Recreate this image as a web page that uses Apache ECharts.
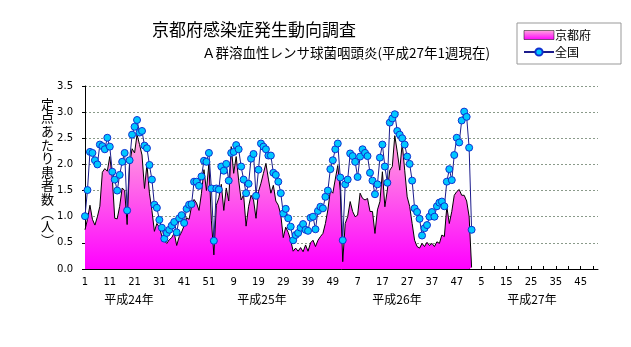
<!DOCTYPE html>
<html><head><meta charset="utf-8">
<script src="https://cdn.jsdelivr.net/npm/echarts@6/dist/echarts.min.js"></script>
<style>html,body{margin:0;padding:0;background:#fff}#c{width:631px;height:347px}</style>
</head><body><div id="c"></div>
<script>
// ---- data ----
const yearNames = ["平成24年", "平成25年", "平成26年", "平成27年"];
const weeksPerYear = [52, 52, 52, 52];
const yTicks = [0, 0.5, 1.0, 1.5, 2.0, 2.5, 3.0, 3.5];
// 京都府 (2012 week1 - 2015 week1)
const kyoto = [
0.75,0.95,1.22,0.95,0.84,1.0,1.2,1.85,1.92,1.87,
2.15,1.75,0.97,0.96,1.2,1.55,1.5,0.85,2.0,2.3,
2.22,2.57,2.38,2.18,1.54,2.0,1.45,1.12,0.72,0.87,
0.8,0.63,0.54,0.49,0.56,0.6,0.69,0.45,0.62,0.71,
0.83,0.98,0.95,1.2,1.33,1.26,1.12,1.45,1.9,1.5,
2.02,0.92,0.27,1.22,1.36,1.62,1.12,1.55,1.3,2.34,
1.83,2.15,1.7,1.32,1.42,0.82,1.19,1.41,1.32,0.97,
1.48,1.64,1.83,2.02,1.72,1.45,1.6,1.3,1.22,1.04,
0.6,0.8,0.7,0.55,0.34,0.4,0.34,0.41,0.33,0.46,
0.34,0.5,0.55,0.43,0.55,0.62,0.68,0.87,1.13,1.5,
1.45,1.72,1.98,1.5,0.14,0.87,1.0,1.29,1.1,1.0,
1.03,1.45,1.35,1.32,1.35,1.1,1.1,0.68,1.13,1.29,
1.86,1.19,1.51,1.89,1.96,2.55,2.24,1.89,2.4,1.89,
1.38,1.2,0.87,0.55,0.43,0.4,0.49,0.43,0.51,0.45,
0.49,0.43,0.52,0.49,0.65,0.62,1.19,0.87,1.1,1.41,
1.48,1.52,1.41,1.41,1.3,1.0,0.03
];
// 全国
const national = [
1.01,1.51,2.24,2.22,2.08,2.0,2.38,2.35,2.29,2.51,
2.34,1.86,1.71,1.5,1.8,2.05,2.22,1.12,2.08,2.57,
2.72,2.85,2.61,2.64,2.36,2.31,1.99,1.71,1.23,1.17,
0.94,0.79,0.58,0.69,0.75,0.83,0.9,0.7,0.97,1.03,
0.88,1.15,1.23,1.24,1.67,1.67,1.59,1.77,2.07,2.05,
2.22,1.54,0.54,1.54,1.52,1.96,1.88,2.01,1.69,2.22,
2.24,2.37,2.29,1.96,1.71,1.45,1.63,2.11,2.2,1.4,
1.9,2.4,2.34,2.29,2.17,2.17,1.84,1.8,1.67,1.45,
1.06,1.15,0.97,0.81,0.55,0.65,0.69,0.79,0.86,0.75,
0.73,0.98,1.0,0.76,1.11,1.19,1.16,1.38,1.5,1.91,
2.08,2.29,2.4,1.75,0.55,1.62,1.71,2.21,2.16,2.05,
1.76,2.15,2.29,2.22,2.16,1.84,1.69,1.43,1.62,2.13,
2.38,1.96,1.65,2.8,2.88,2.96,2.64,2.57,2.5,2.38,
2.15,2.01,1.69,1.16,1.09,0.96,0.64,0.78,0.84,1.0,
1.09,1.0,1.2,1.27,1.29,1.2,1.67,1.91,1.7,2.18,
2.51,2.42,2.84,3.01,2.91,2.32,0.75
];
// categories: week numbers
const categories = [];
weeksPerYear.forEach(n => { for (let w = 1; w <= n; w++) categories.push(String(w)); });

const chart = echarts.init(document.getElementById('c'));
const pinkGrad = new echarts.graphic.LinearGradient(0, 0, 0, 1, [
  {offset: 0, color: '#ffa8dc'}, {offset: 1, color: '#ff00ff'}
]);
const yearX = [129, 262, 397, 532];
const option = {
  animation: false,
  textStyle: {fontFamily: 'Noto Sans CJK JP'},
  title: [
    {text: '京都府感染症発生動向調査', left: 249, top: 16, textAlign: 'center',
     textStyle: {fontSize: 17, fontWeight: 'normal', color: '#000', fontFamily: 'Noto Sans CJK JP'}},
    {text: 'Ａ群溶血性レンサ球菌咽頭炎(平成27年1週現在)', left: 341, top: 41, textAlign: 'center',
     textStyle: {fontSize: 13.5, fontWeight: 'normal', color: '#000', fontFamily: 'Noto Sans CJK JP'}}
  ],
  legend: {
    left: 517, top: 23, orient: 'vertical', itemGap: 5, itemWidth: 30, itemHeight: 9,
    padding: [6, 30, 6, 6], borderColor: '#999', borderWidth: 1, backgroundColor: '#fff',
    textStyle: {fontSize: 12, color: '#000', fontFamily: 'Noto Sans CJK JP', padding: [0,0,0,-4]},
    data: [
      {name: '京都府', icon: 'rect', itemStyle: {color: pinkGrad, borderColor: '#000', borderWidth: 0.5}},
      {name: '全国'}
    ]
  },
  grid: {left: 85, right: 33, top: 86, bottom: 78},
  xAxis: {
    type: 'category', data: categories, boundaryGap: false,
    axisLine: {lineStyle: {color: '#000', width: 1}},
    axisTick: {inside: true, length: 3, interval: 4, lineStyle: {color: '#000'}},
    axisLabel: {interval: 9, color: '#000', fontSize: 10, margin: 8, fontFamily: 'DejaVu Sans'},
    splitLine: {show: false}
  },
  yAxis: {
    type: 'value', min: yTicks[0], max: yTicks[yTicks.length - 1], interval: 0.5,
    axisLine: {show: true, lineStyle: {color: '#000'}},
    axisTick: {show: true, length: 3, lineStyle: {color: '#000'}},
    axisLabel: {color: '#000', fontSize: 10, margin: 12, fontFamily: 'DejaVu Sans',
      formatter: v => v.toFixed(1)},
    splitLine: {show: true, lineStyle: {color: '#8a9a8a', type: [2, 2], width: 1}}
  },
  series: [
    {name: '京都府', type: 'line', data: kyoto, symbol: 'none', z: 2,
     lineStyle: {color: '#000', width: 1}, itemStyle: {color: pinkGrad},
     areaStyle: {color: pinkGrad, opacity: 1}},
    {name: '全国', type: 'line', data: national, symbol: 'circle', symbolSize: 7, z: 3,
     showAllSymbol: true,
     lineStyle: {color: '#1c1c8c', width: 1},
     itemStyle: {color: '#00c8ff', borderColor: '#1030d0', borderWidth: 1}}
  ],
  graphic: [
    {type: 'text', left: 41, top: 97, style: {
      text: '定\n点\nあ\nた\nり\n患\n者\n数\n︵\n人\n︶', fontSize: 13, lineHeight: 13.6,
      fill: '#000', fontFamily: 'Noto Sans CJK JP', align: 'left'}}
  ].concat(yearNames.map((t, i) => ({type: 'text', x: yearX[i], y: 293,
      style: {text: t, fontSize: 12, fill: '#000', align: 'center', fontFamily: 'Noto Sans CJK JP'}})))
};
chart.setOption(option);
</script></body></html>
